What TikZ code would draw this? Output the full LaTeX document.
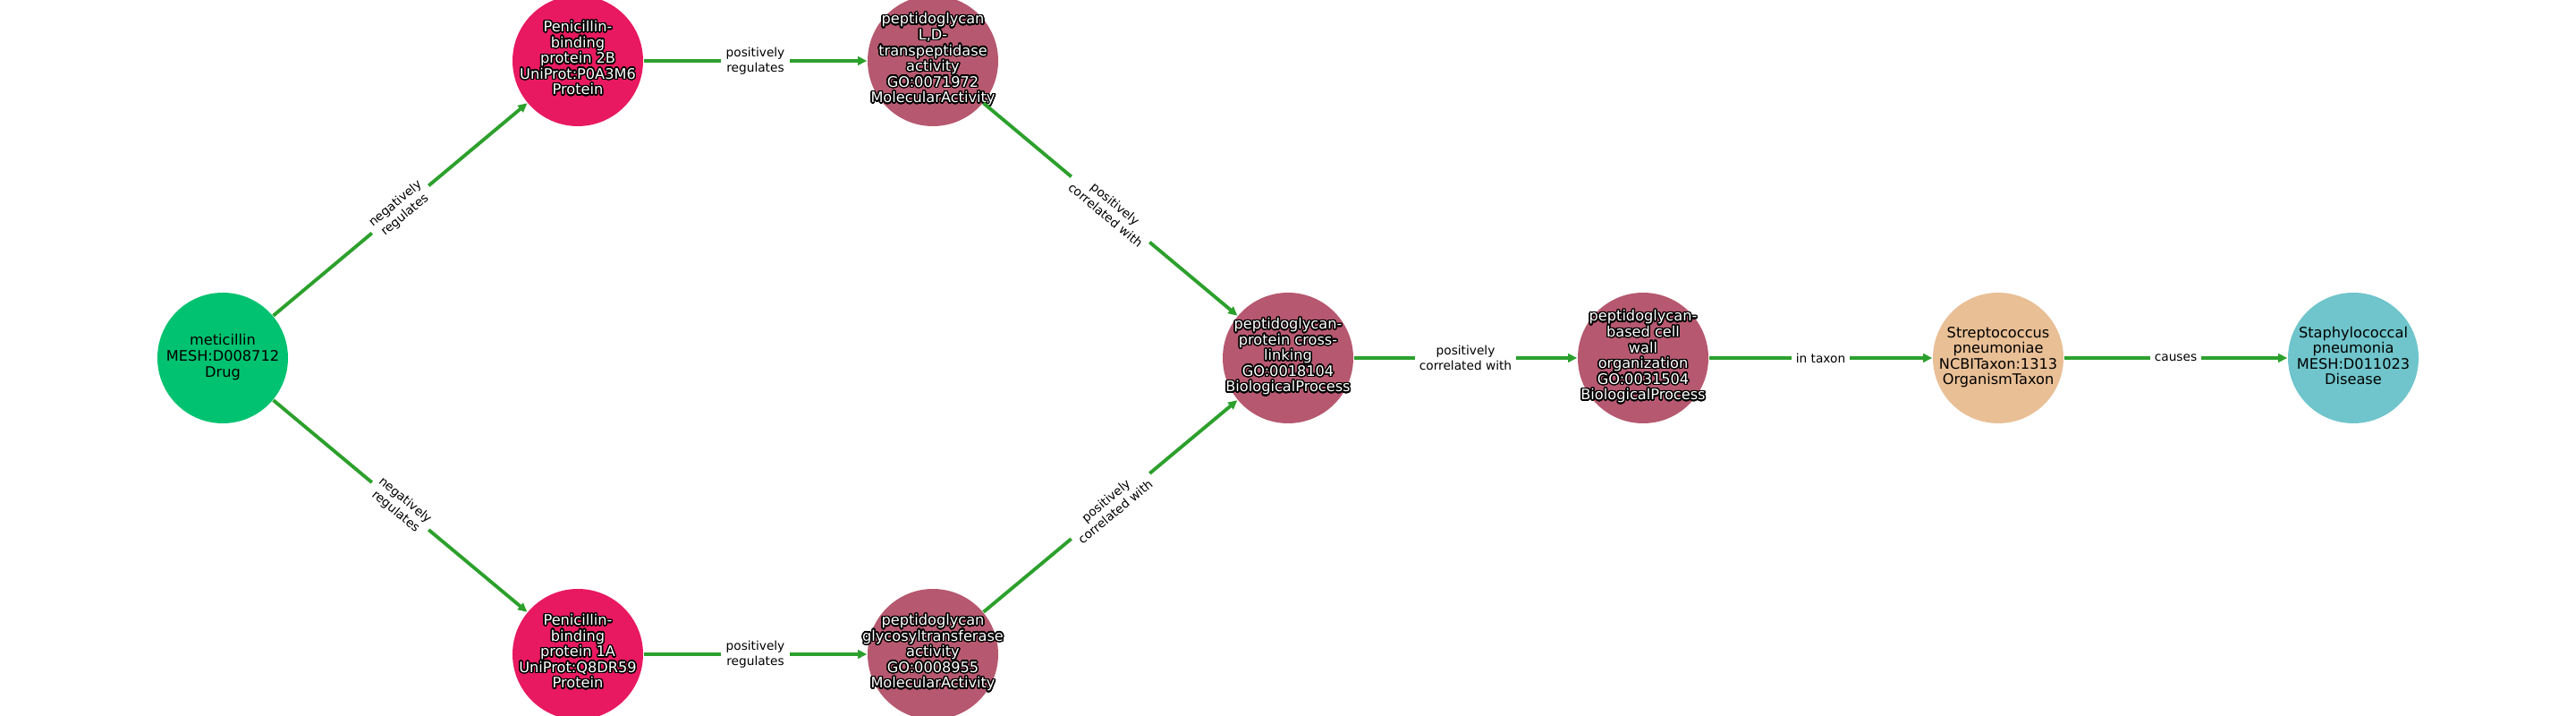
\documentclass[tikz,border=0pt]{standalone}
\usepackage{fontspec}
\setmainfont{DejaVu Sans}
\usepackage{contour}
\usetikzlibrary{arrows.meta}

\contourlength{0.4pt}
\contournumber{32}

\definecolor{drugc}{RGB}{0,194,112}
\definecolor{protc}{RGB}{232,25,96}
\definecolor{goc}{RGB}{182,88,111}
\definecolor{taxc}{RGB}{233,191,150}
\definecolor{disc}{RGB}{111,197,203}
\definecolor{edgec}{RGB}{44,160,44}

\newcommand{\blk}[1]{{\fontsize{4.6}{5}\selectfont\begin{tabular}{@{}c@{}}#1\end{tabular}}}
\newcommand{\wht}[1]{\textcolor{white}{\contour{black}{\blk{#1}}}}

\tikzset{
  ent/.style={circle, minimum size=14.6mm, inner sep=0pt},
  drug/.style={ent, fill=drugc},
  prot/.style={ent, fill=protc},
  goterm/.style={ent, fill=goc},
  taxon/.style={ent, fill=taxc},
  dis/.style={ent, fill=disc},
  rel/.style={draw=edgec, line width=1.1pt, -{Triangle[length=2.9pt,width=2.7pt]}},
  rellabel/.style={fill=white, inner sep=1.5pt, align=center,
    font=\fontsize{3.9}{4.7}\selectfont, midway, sloped},
}

\begin{document}
\begin{tikzpicture}

\useasboundingbox (0,0) rectangle (28.8,8);

\node[drug, label={center:\blk{meticillin\\MESH:D008712\\Drug}}] (met) at (2.49,4) {};%

\node[prot, label={center:\wht{Penicillin-\\binding\\protein 2B\\UniProt:P0A3M6\\Protein}}] (pbpb) at (6.46,7.32) {};%

\node[prot, label={center:\wht{Penicillin-\\binding\\protein 1A\\UniProt:Q8DR59\\Protein}}] (pbpa) at (6.46,0.69) {};%

\node[goterm, label={center:\wht{peptidoglycan\\L,D-\\transpeptidase\\activity\\GO:0071972\\MolecularActivity}}] (ldt) at (10.43,7.32) {};%

\node[goterm, label={center:\wht{peptidoglycan\\glycosyltransferase\\activity\\GO:0008955\\MolecularActivity}}] (gtf) at (10.43,0.69) {};%

\node[goterm, label={center:\wht{peptidoglycan-\\protein cross-\\linking\\GO:0018104\\BiologicalProcess}}] (xlink) at (14.40,4) {};%

\node[goterm, label={center:\wht{peptidoglycan-\\based cell\\wall\\organization\\GO:0031504\\BiologicalProcess}}] (cwall) at (18.37,4) {};%

\node[taxon, label={center:\blk{Streptococcus\\pneumoniae\\NCBITaxon:1313\\OrganismTaxon}}] (strep) at (22.34,4) {};%

\node[dis, label={center:\blk{Staphylococcal\\pneumonia\\MESH:D011023\\Disease}}] (pneu) at (26.31,4) {};%

\draw[rel] (met) -- node[rellabel] {negatively\\regulates} (pbpb);
\draw[rel] (met) -- node[rellabel] {negatively\\regulates} (pbpa);
\draw[rel] (pbpb) -- node[rellabel] {positively\\regulates} (ldt);
\draw[rel] (pbpa) -- node[rellabel] {positively\\regulates} (gtf);
\draw[rel] (ldt) -- node[rellabel] {positively\\correlated with} (xlink);
\draw[rel] (gtf) -- node[rellabel] {positively\\correlated with} (xlink);
\draw[rel] (xlink) -- node[rellabel] {positively\\correlated with} (cwall);
\draw[rel] (cwall) -- node[rellabel] {in taxon} (strep);
\draw[rel] (strep) -- node[rellabel] {causes} (pneu);

\end{tikzpicture}
\end{document}
